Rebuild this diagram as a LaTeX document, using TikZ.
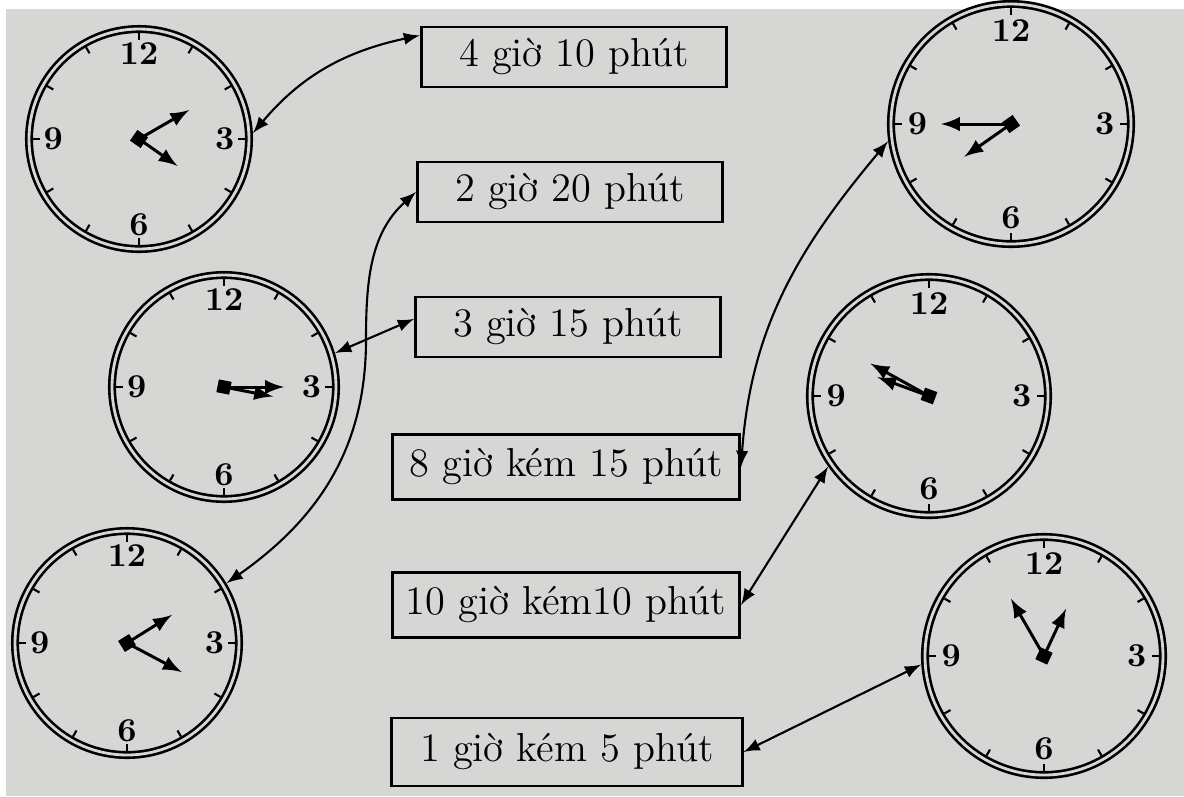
\documentclass[tikz,border=0pt]{standalone}
\usepackage{fontspec}
\definecolor{paper}{RGB}{214,214,212}
\begin{document}
\begin{tikzpicture}
	[x=0.01cm,y=0.01cm,
	clock/.style={circle,draw,double=paper,double distance=0.8pt,line width=0.75pt,inner sep=0pt,outer sep=1.2pt},
	numeral/.style={inner sep=0pt,font=\bfseries\fontsize{9.5}{10}\selectfont},
	hub/.style={fill,inner sep=0pt,minimum size=0.13cm},
	hand/.style={->,line width=0.85pt},
	timebox/.style={draw,line width=0.8pt,inner sep=0pt,font=\fontsize{11.5}{13}\selectfont},
	link/.style={<->,line width=0.6pt},>=latex]
	\useasboundingbox (0,0) rectangle (1184,-796);
	\fill[paper] (6,-9) rectangle (1184,-796);
	\foreach \n/\x/\y/\r/\ma/\ml/\ha/\hl in {1/139/139/110/30/58/-35/47,2/224/387/112/0/60/-11/50,3/127/643/112/-28/62/32/53,4/1011/124/120/180/70/215/57,5/929/396/119/151/67/160/55,6/1044/656/119/120/66/65/52}{
		\node[clock,minimum size=2*\r*0.01cm] (c\n) at (\x,-\y) {};
		\foreach \a in {0,30,...,330}
			\draw[line width=0.6pt] (c\n.center) ++({\a}:{\r-4}) -- ++({\a}:-7);
		\foreach \a/\t in {90/12,0/3,-90/6,180/9}
			\path (c\n.center) ++({\a}:{0.78*\r}) node[numeral] (c\n-\t) {\t};
		\draw[hand] (c\n.center) -- ++({\ma}:{\ml});
		\draw[hand] (c\n.center) -- ++({\ha}:{\hl});
		\node[hub,rotate=\ha] (h\n) at (c\n.center) {};
	}
	\node[timebox,minimum width=3.05cm,minimum height=0.6cm] (b1) at (574,-57) {4 giờ 10 phút};
	\node[timebox,minimum width=3.05cm,minimum height=0.6cm] (b2) at (570,-192) {2 giờ 20 phút};
	\node[timebox,minimum width=3.05cm,minimum height=0.6cm] (b3) at (568,-327) {3 giờ 15 phút};
	\node[timebox,minimum width=3.47cm,minimum height=0.65cm] (b4) at (566,-467) {8 giờ kém 15 phút};
	\node[timebox,minimum width=3.47cm,minimum height=0.65cm] (b5) at (566,-605) {10 giờ kém10 phút};
	\node[timebox,minimum width=3.50cm,minimum height=0.68cm] (b6) at (567,-752) {1 giờ kém 5 phút};
	\coordinate (s2) at (366,-340);
	\draw[link] (c1.3) to[out=50,in=192] (b1.172);
	\draw[link] (b2.west) to[out=222,in=90] (s2) to[out=-90,in=35] (c3.31);
	\draw[link] (c2.17) -- (b3.177);
	\draw[link] (c4.188) to[out=230,in=86] (b4.east);
	\draw[link] (b5.east) -- (c5.215);
	\draw[link] (b6.east) -- (c6.184);
\end{tikzpicture}
\end{document}
